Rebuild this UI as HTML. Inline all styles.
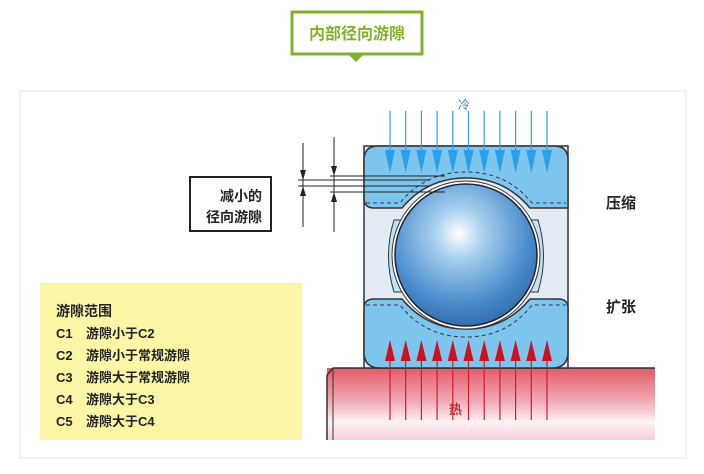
<!DOCTYPE html>
<html><head><meta charset="utf-8"><style>
html,body{margin:0;padding:0;background:#fff;}
body{width:704px;height:474px;overflow:hidden;position:relative;font-family:"Liberation Sans","Noto Sans CJK SC",sans-serif;}
</style></head><body>
<svg width="704" height="474" viewBox="0 0 704 474" xmlns="http://www.w3.org/2000/svg" style="position:absolute;left:0;top:0">
<defs>
<radialGradient id="ball" cx="0.45" cy="0.35" r="0.7">
<stop offset="0" stop-color="#ffffff"/><stop offset="0.25" stop-color="#a8d0ee"/><stop offset="0.7" stop-color="#4a8ccc"/><stop offset="1" stop-color="#2d67a8"/>
</radialGradient>
<linearGradient id="shaft" x1="0" y1="0" x2="0" y2="1">
<stop offset="0" stop-color="#e45a6a"/><stop offset="0.45" stop-color="#f0a8b2"/><stop offset="0.75" stop-color="#fdf2f4"/><stop offset="1" stop-color="#f4d0d6"/>
</linearGradient>
</defs>
<!-- title -->
<rect x="292" y="12" width="130" height="42" fill="#fff" stroke="#7db32a" stroke-width="3"/>
<polygon points="349,55 363,55 356,62" fill="#7db32a"/>
<text x="357" y="39" font-size="16" font-weight="bold" fill="#7db32a" text-anchor="middle">内部径向游隙</text>
<!-- frame -->
<rect x="20" y="91" width="666" height="367" fill="#fff" stroke="#e6e6e6"/>
<!-- yellow box -->
<rect x="40" y="283" width="262" height="157" fill="#fbf6a6"/>
<g font-size="13" font-weight="bold" fill="#222">
<text x="56" y="316" font-size="14">游隙范围</text>
<text x="56" y="338">C1</text><text x="86" y="338">游隙小于C2</text>
<text x="56" y="360">C2</text><text x="86" y="360">游隙小于常规游隙</text>
<text x="56" y="382">C3</text><text x="86" y="382">游隙大于常规游隙</text>
<text x="56" y="404">C4</text><text x="86" y="404">游隙大于C3</text>
<text x="56" y="426">C5</text><text x="86" y="426">游隙大于C4</text>
</g>
<!-- shaft -->
<rect x="327" y="368" width="328" height="72" fill="url(#shaft)"/>
<path d="M655,368 L333,368 L327,375 L327,440" fill="none" stroke="#333" stroke-width="1.5"/>
<line x1="333" y1="368" x2="333" y2="440" stroke="#333" stroke-width="1"/>
<!-- bearing body -->
<rect x="364" y="146" width="204" height="222" fill="#e3ebf5" stroke="#333" stroke-width="1.5"/>
<!-- top outer ring -->
<path d="M364,160 Q364,146 378,146 L554,146 Q568,146 568,160 L568,208 L530,208 Q505,178 466,178 Q427,178 402,208 L374,208 Q364,208 364,198 Z" fill="#7ec5ee" stroke="#333" stroke-width="1.5"/>
<path d="M366,203 L400,203 Q425,172 466,172 Q507,172 532,203 L566,203" fill="none" stroke="#335" stroke-width="1" stroke-dasharray="4,3"/>
<!-- bottom inner ring -->
<path d="M364,308 Q364,299 374,299 L402,299 Q427,329 466,329 Q505,329 530,299 L558,299 Q568,299 568,308 L568,352 Q568,368 552,368 L380,368 Q364,368 364,352 Z" fill="#7ec5ee" stroke="#333" stroke-width="1.5"/>
<path d="M366,305 L400,305 Q425,337 466,337 Q507,337 532,305 L566,305" fill="none" stroke="#335" stroke-width="1" stroke-dasharray="4,3"/>
<!-- cage -->
<path d="M394,220 L405,220 L405,292 L394,292 Q383,256 394,220 Z" fill="#bfe2f4" stroke="#333"/>
<path d="M538,220 L527,220 L527,292 L538,292 Q549,256 538,220 Z" fill="#bfe2f4" stroke="#333"/>
<!-- ball -->
<circle cx="466" cy="255" r="74" fill="#fff" stroke="#333" stroke-width="1"/>
<circle cx="466" cy="255" r="71" fill="url(#ball)" stroke="#223" stroke-width="1.5"/>
<!-- cold arrows -->
<g stroke="#3a9bd6" stroke-width="1.2">
<line x1="390" y1="111" x2="390" y2="168"/><line x1="405.7" y1="111" x2="405.7" y2="168"/><line x1="421.4" y1="111" x2="421.4" y2="168"/><line x1="437.1" y1="111" x2="437.1" y2="168"/><line x1="452.8" y1="111" x2="452.8" y2="168"/><line x1="468.5" y1="111" x2="468.5" y2="168"/><line x1="484.2" y1="111" x2="484.2" y2="168"/><line x1="499.9" y1="111" x2="499.9" y2="168"/><line x1="515.6" y1="111" x2="515.6" y2="168"/><line x1="531.3" y1="111" x2="531.3" y2="168"/><line x1="547" y1="111" x2="547" y2="168"/>
</g>
<g fill="#2aa0ea">
<polygon points="385,150 395,150 390,173"/><polygon points="400.7,150 410.7,150 405.7,173"/><polygon points="416.4,150 426.4,150 421.4,173"/><polygon points="432.1,150 442.1,150 437.1,173"/><polygon points="447.8,150 457.8,150 452.8,173"/><polygon points="463.5,150 473.5,150 468.5,173"/><polygon points="479.2,150 489.2,150 484.2,173"/><polygon points="494.9,150 504.9,150 499.9,173"/><polygon points="510.6,150 520.6,150 515.6,173"/><polygon points="526.3,150 536.3,150 531.3,173"/><polygon points="542,150 552,150 547,173"/>
</g>
<!-- hot arrows -->
<g stroke="#c8202c" stroke-width="1.2">
<line x1="390" y1="350" x2="390" y2="420"/><line x1="405.7" y1="350" x2="405.7" y2="420"/><line x1="421.4" y1="350" x2="421.4" y2="420"/><line x1="437.1" y1="350" x2="437.1" y2="420"/><line x1="452.8" y1="350" x2="452.8" y2="420"/><line x1="468.5" y1="350" x2="468.5" y2="420"/><line x1="484.2" y1="350" x2="484.2" y2="420"/><line x1="499.9" y1="350" x2="499.9" y2="420"/><line x1="515.6" y1="350" x2="515.6" y2="420"/><line x1="531.3" y1="350" x2="531.3" y2="420"/><line x1="547" y1="350" x2="547" y2="420"/>
</g>
<g fill="#d0101e">
<polygon points="385,361 395,361 390,340"/><polygon points="400.7,361 410.7,361 405.7,340"/><polygon points="416.4,361 426.4,361 421.4,340"/><polygon points="432.1,361 442.1,361 437.1,340"/><polygon points="447.8,361 457.8,361 452.8,340"/><polygon points="463.5,361 473.5,361 468.5,340"/><polygon points="479.2,361 489.2,361 484.2,340"/><polygon points="494.9,361 504.9,361 499.9,340"/><polygon points="510.6,361 520.6,361 515.6,340"/><polygon points="526.3,361 536.3,361 531.3,340"/><polygon points="542,361 552,361 547,340"/>
</g>
<text x="458" y="109" font-size="12" fill="#3a7fb5">冷</text>
<text x="449" y="414" font-size="13" fill="#c0303a" font-weight="bold">热</text>
<text x="606" y="208" font-size="15" fill="#222" font-weight="bold">压缩</text>
<text x="606" y="312" font-size="15" fill="#222" font-weight="bold">扩张</text>
<!-- dimension -->
<g stroke="#222" stroke-width="1" fill="none">
<line x1="303" y1="143" x2="303" y2="227"/>
<line x1="334" y1="137" x2="334" y2="232"/>
<line x1="298" y1="180" x2="430" y2="180"/>
<line x1="298" y1="186" x2="430" y2="186"/>
<line x1="330" y1="176" x2="445" y2="176"/>
<line x1="330" y1="192" x2="445" y2="192"/>
</g>
<g fill="#222">
<polygon points="300,170 306,170 303,180"/><polygon points="300,196 306,196 303,186"/>
<polygon points="331,166 337,166 334,176"/><polygon points="331,202 337,202 334,192"/>
</g>
<rect x="190" y="177" width="81" height="54" fill="#fff" stroke="#222" stroke-width="2"/>
<text x="262" y="201" font-size="14" fill="#222" text-anchor="end" font-weight="bold">减小的</text>
<text x="262" y="222" font-size="14" fill="#222" text-anchor="end" font-weight="bold">径向游隙</text>
</svg>
</body></html>
